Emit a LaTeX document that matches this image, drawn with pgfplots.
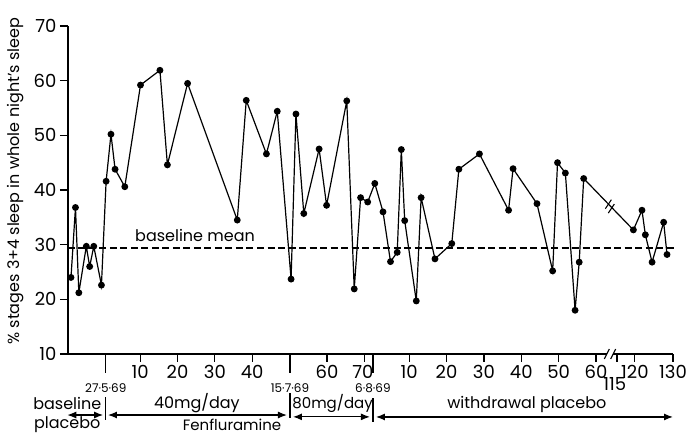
\documentclass[border=0pt]{standalone}
\usepackage{fontspec}
\setmainfont{Poppins}
\usepackage{pgfplots}
\pgfplotsset{compat=1.18}
\usetikzlibrary{arrows.meta}

% days: baseline < 1, 27.5.69 = day 1, withdrawal day w at w+72, days >=115 at w+22.6
\pgfplotstableread{
u v
-8.5 24.0
-7.3 36.8
-6.4 21.2
-4.4 29.7
-3.5 26.0
-2.4 29.7
-0.35 22.6
0.9 41.6
2.2 50.2
3.3 43.8
5.9 40.6
10.1 59.2
15.3 61.9
17.3 44.6
22.7 59.5
36.0 34.5
38.4 56.4
43.8 46.6
46.7 54.4
50.4 23.7
51.7 53.9
53.8 35.7
57.9 47.5
59.9 37.2
65.3 56.3
67.3 21.9
69.0 38.6
70.9 37.8
72.8 41.2
75.0 36.0
77.0 26.9
78.8 28.6
79.9 47.4
80.8 34.4
83.9 19.7
85.2 38.6
88.9 27.4
93.4 30.2
95.3 43.8
100.8 46.6
108.6 36.3
109.8 43.9
116.2 37.5
120.4 25.2
121.7 45.0
123.8 43.1
126.4 18.0
127.5 26.8
128.7 42.1
142.0 32.7
144.3 36.3
145.2 31.8
147.0 26.8
150.1 34.1
151.0 28.2
}\sleepdata

\begin{document}
\begin{tikzpicture}
\tikzset{arr/.style={line width=1.2pt,{Latex[length=9pt,width=7pt]}-{Latex[length=9pt,width=7pt]}},
         ann/.style={font=\fontsize{16}{16}\selectfont,inner sep=0pt}}
\begin{axis}[
    name=ax,
    width=605pt, height=328pt, scale only axis,
    xmin=-9.3, xmax=152.6, ymin=10, ymax=70,
    axis x line=bottom, axis y line=left,
    axis line style={-, line width=1.4pt},
    x axis line style={draw=none},
    tick align=outside,
    major tick length=8pt,
    tick style={line width=1.2pt, black},
    ytick={10,20,...,70},
    xtick={10,20,30,40,60,70,82,92,102,112,122,132,137.6,142.4,152.6},
    xticklabels={10,20,30,40,60,\hspace*{-3pt}70,10,20,30,40,50,60,{},120,130},
    extra x ticks={0.8,50.1,72.3},
    extra x tick labels={27·5·69,15·7·69,6·8·69},
    extra x tick style={major tick length=19pt,
        tick label style={font=\fontsize{12}{12}\selectfont, yshift=-7pt}},
    ticklabel style={font=\fontsize{18}{18}\selectfont},
    /pgf/number format/assume math mode=true,
    clip=false,
]
\addplot[black, line width=1.4pt, dash pattern=on 7pt off 3.5pt] coordinates {(-9.3,29.4) (153.2,29.4)};
\addplot[black, line width=1.2pt, mark=*, mark size=2.8pt] table[x=u, y=v] {\sleepdata};
\node[ann] at (axis cs:24.7,31.6) {baseline mean};
\node[rotate=90, font=\fontsize{16}{16}\selectfont] at (axis cs:-23.4,41.6) {\% stages 3+4 sleep in whole night’s sleep};
\node[font=\fontsize{18}{18}\selectfont, inner sep=0pt] at (axis cs:137.0,4.6) {115};
% bottom period annotations
\node[ann] at (axis cs:-9.5,1.0) {baseline};
\node[ann] at (axis cs:-9.5,-2.9) {placebo};
\draw[arr] (axis cs:-9.5,-1.16) -- (axis cs:0.1,-1.16);
\draw[line width=1.2pt] (axis cs:0.82,2.1) -- (axis cs:0.82,-2.1);
\node[ann] at (axis cs:25.2,1.0) {40mg/day};
\draw[arr] (axis cs:1.4,-1.16) -- (axis cs:49.3,-1.16);
\draw[line width=1.2pt] (axis cs:50.1,2.9) -- (axis cs:50.1,-1.7);
\node[ann, font=\fontsize{15}{15}\selectfont] at (axis cs:61.5,1.0) {80mg/day};
\node[ann, font=\fontsize{15}{15}\selectfont] at (axis cs:34.6,-2.9) {Fenfluramine};
\draw[arr] (axis cs:50.9,-1.5) -- (axis cs:71.5,-1.5);
\draw[line width=1.2pt] (axis cs:72.3,1.95) -- (axis cs:72.3,-2.45);
\node[ann] at (axis cs:113.5,0.7) {withdrawal placebo};
\draw[arr] (axis cs:73.1,-1.52) -- (axis cs:152.6,-1.52);
% x axis line with break
\draw[line width=1.4pt] (axis cs:-9.3,10) -- (axis cs:134.9,10);
\draw[line width=1.4pt] (axis cs:136.6,10) -- (axis cs:152.6,10);
\draw[line width=1.1pt] (axis cs:134.9,10) ++(-2.5pt,-5pt) -- ++(5pt,10pt);
\draw[line width=1.1pt] (axis cs:136.6,10) ++(-2.5pt,-5pt) -- ++(5pt,10pt);
% break on data line
\draw[line width=1.1pt] (axis cs:135.3,37.4) ++(-3pt,-4.5pt) -- ++(6pt,9pt);
\draw[line width=1.1pt] (axis cs:136.1,36.6) ++(-3pt,-4.5pt) -- ++(6pt,9pt);
\end{axis}
\pgfresetboundingbox
\path (ax.south west) ++(-68pt,-82pt) rectangle ++(689pt,436pt);
\end{tikzpicture}
\end{document}
